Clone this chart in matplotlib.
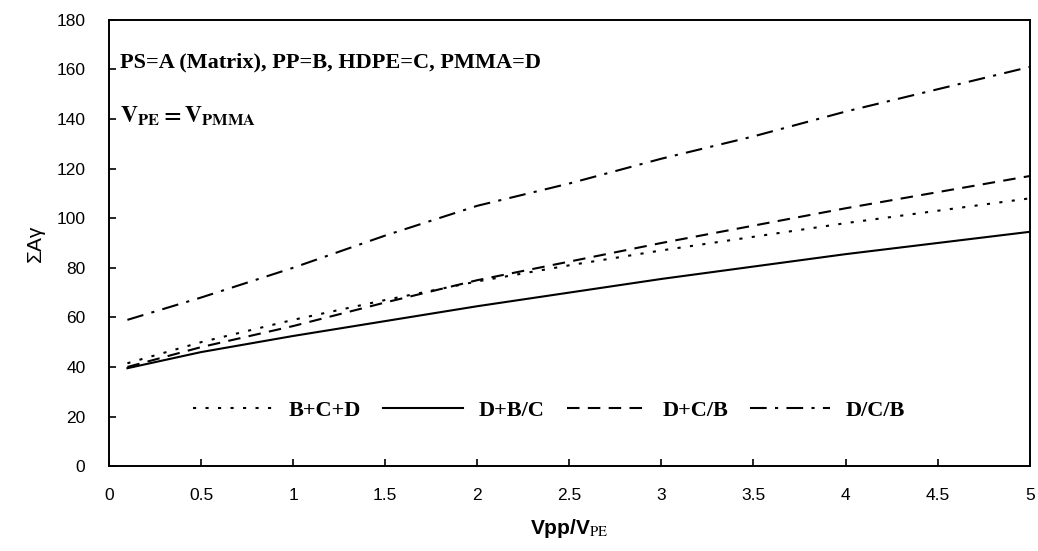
import matplotlib
matplotlib.use("Agg")
import matplotlib.pyplot as plt

# Data
x = [0.1, 0.5, 1.0, 1.5, 2.0, 2.5, 3.0, 3.5, 4.0, 4.5, 5.0]
bcd = [41.5, 50, 59, 67, 74.5, 81, 87, 92.5, 98, 103, 108]        # B+C+D
dbc = [39.5, 46, 52.5, 58.5, 64.5, 70, 75.5, 80.5, 85.5, 90, 94.5]  # D+B/C
dcb_plus = [40, 48, 56.5, 66, 75, 82.5, 90, 97, 104, 110.5, 117]    # D+C/B
dcb = [59, 68, 80, 93, 105, 114, 124, 133, 143, 152, 161]            # D/C/B
series_labels = ["B+C+D", "D+B/C", "D+C/B", "D/C/B"]
xticks = [0, 0.5, 1, 1.5, 2, 2.5, 3, 3.5, 4, 4.5, 5]
xtick_labels = ["0", "0.5", "1", "1.5", "2", "2.5", "3", "3.5", "4", "4.5", "5"]
yticks = list(range(0, 181, 20))

plt.rcParams['mathtext.fontset'] = 'stix'

fig = plt.figure(figsize=(10.38, 5.51), dpi=100)
ax = fig.add_axes([0.105, 0.154, 0.887, 0.81])

lw = 1.5
ax.plot(x, bcd, color='black', lw=lw, linestyle=(0, (1.5, 4.5)), label=series_labels[0])
ax.plot(x, dbc, color='black', lw=lw, linestyle='-', label=series_labels[1])
ax.plot(x, dcb_plus, color='black', lw=lw, linestyle=(0, (6, 4)), label=series_labels[2])
ax.plot(x, dcb, color='black', lw=lw, linestyle=(0, (8, 4, 1.5, 4)), label=series_labels[3])

ax.set_xlim(0, 5)
ax.set_ylim(0, 180)
ax.set_xticks(xticks)
ax.set_xticklabels(xtick_labels)
ax.set_yticks(yticks)
for s in ax.spines.values():
    s.set_linewidth(1.4)
ax.tick_params(axis='both', direction='in', length=5, width=1.2, labelsize=12.5)
ax.tick_params(axis='x', pad=16)
ax.tick_params(axis='y', pad=17)
for lab in ax.get_xticklabels() + ax.get_yticklabels():
    lab.set_fontfamily('Liberation Sans')

ax.set_xlabel(r'Vpp/V$_{\mathrm{PE}}$', fontfamily='Liberation Sans',
              fontweight='bold', fontsize=15, labelpad=10)
ax.set_ylabel('ΣAγ', fontfamily='Liberation Sans', fontsize=15, labelpad=8)

ax.text(0.012, 0.905, 'PS=A (Matrix), PP=B, HDPE=C, PMMA=D', transform=ax.transAxes,
        fontfamily='Liberation Serif', fontweight='bold', fontsize=16, va='center')
ax.text(0.012, 0.785, r'$\mathbf{V_{PE} = V_{PMMA}}$', transform=ax.transAxes,
        fontsize=17, va='center')

leg = ax.legend(loc='center', bbox_to_anchor=(0.478, 0.125), ncol=4, frameon=False,
                handlelength=3.6, handletextpad=0.7, columnspacing=1.0,
                prop={'family': 'Liberation Serif', 'weight': 'bold', 'size': 16})

fig.savefig('out.png', dpi=100)
